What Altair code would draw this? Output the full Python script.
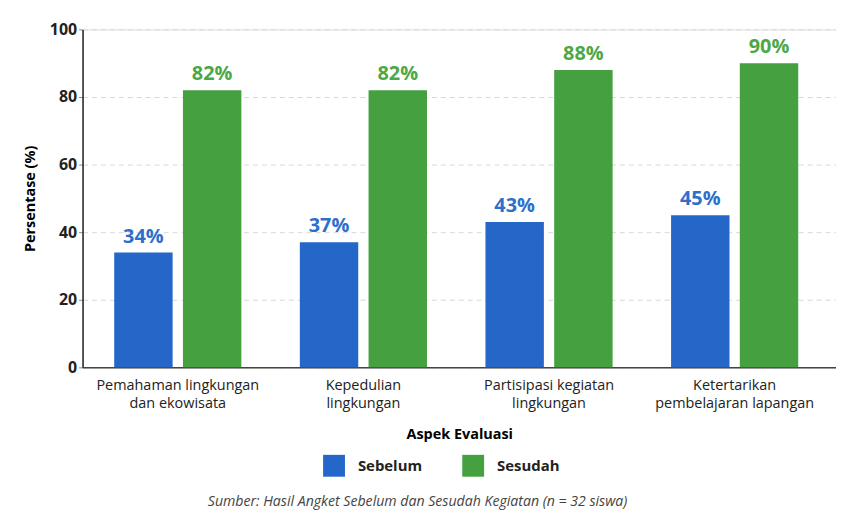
import altair as alt
import pandas as pd

aspek = [
    "Pemahaman lingkungan|dan ekowisata",
    "Kepedulian|lingkungan",
    "Partisipasi kegiatan|lingkungan",
    "Ketertarikan|pembelajaran lapangan",
]
sebelum = [34, 37, 43, 45]
sesudah = [82, 82, 88, 90]
waktu = ["Sebelum", "Sesudah"]

rows = []
for a, b, s in zip(aspek, sebelum, sesudah):
    rows.append({"Aspek": a, "Waktu": "Sebelum", "Nilai": b, "Label": f"{b}%"})
    rows.append({"Aspek": a, "Waktu": "Sesudah", "Nilai": s, "Label": f"{s}%"})
df = pd.DataFrame(rows)

FONT = "Open Sans"
bar_colors = ["#2467C9", "#45A040"]
text_colors = ["#2E6FCC", "#4CA845"]

x = alt.X("Aspek:N", sort=aspek, title="Aspek Evaluasi",
          scale=alt.Scale(paddingInner=0.315, paddingOuter=0.187, align=0.456),
          axis=alt.Axis(labelExpr="split(datum.label, '|')", labelAngle=0,
                        labelFontSize=14.5, labelColor="#222", labelFont=FONT,
                        labelPadding=11, titleFontSize=14.5, titleFont=FONT,
                        titleFontWeight="bold", titlePadding=18, ticks=False,
                        domainColor="#444", domainWidth=1.5, labelLineHeight=18))
xo = alt.XOffset("Waktu:N", sort=waktu, scale=alt.Scale(paddingInner=0.15))
y = alt.Y("Nilai:Q", title="Persentase (%)",
          scale=alt.Scale(domain=[0, 100]),
          axis=alt.Axis(values=[0, 20, 40, 60, 80, 100], labelFontSize=16,
                        labelFontWeight="bold", labelColor="#222", labelFont=FONT,
                        titleFontSize=14.5, titleFontWeight="bold", titleFont=FONT,
                        titlePadding=12, gridDash=[5, 4], gridColor="#d8d8d8",
                        domainColor="#222", domainWidth=1.5, tickColor="#888",
                        tickSize=4))

bars = alt.Chart(df).mark_bar().encode(
    x=x, xOffset=xo, y=y,
    color=alt.Color("Waktu:N", sort=waktu,
                    scale=alt.Scale(domain=waktu, range=bar_colors),
                    legend=alt.Legend(title=None, orient="none", direction="horizontal",
                                      legendX=242, legendY=428,
                                      symbolType="square", symbolSize=484,
                                      symbolStrokeWidth=0, labelFontSize=15,
                                      labelFontWeight="bold", labelFont=FONT,
                                      labelColor="#222", columnPadding=40,
                                      labelOffset=13)),
)

texts = alt.Chart(df).mark_text(dy=-16, fontSize=20, fontWeight="bold", font=FONT).encode(
    x=x, xOffset=xo, y=y, text="Label:N",
    color=alt.Color("Waktu:N", sort=waktu,
                    scale=alt.Scale(domain=waktu, range=text_colors), legend=None),
)

chart = alt.layer(bars, texts).resolve_scale(color="independent").properties(
    width=758, height=340,
    padding={"left": 14, "top": 12, "right": 0, "bottom": 5},
    title=alt.TitleParams(
        "Sumber: Hasil Angket Sebelum dan Sesudah Kegiatan (n = 32 siswa)",
        orient="bottom", fontSize=14.2, fontStyle="italic", fontWeight="normal",
        color="#444", font=FONT, offset=18, dx=-42),
).configure_view(stroke=None).configure(background="white")

chart.save("out.html", embed_options={"renderer": "svg", "actions": False})
